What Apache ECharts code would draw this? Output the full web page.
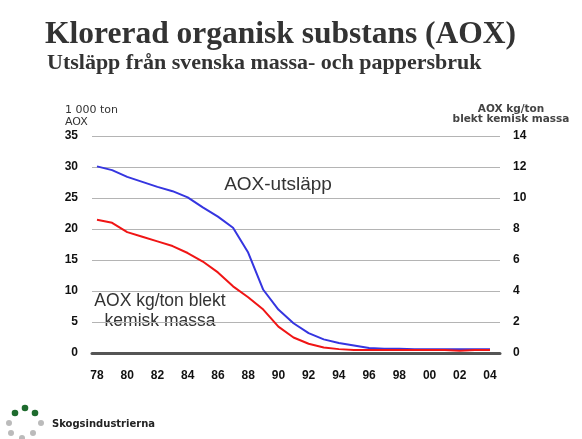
<!DOCTYPE html>
<html>
<head>
<meta charset="utf-8">
<script src="https://cdn.jsdelivr.net/npm/echarts@6/dist/echarts.min.js"></script>
<style>
  html, body { margin: 0; padding: 0; background: #fff; }
  #main { width: 582px; height: 439px; }
</style>
</head>
<body>
<div id="main"></div>
<script>
let years = [1978, 1979, 1980, 1981, 1982, 1983, 1984, 1985, 1986, 1987, 1988, 1989, 1990, 1991,
    1992, 1993, 1994, 1995, 1996, 1997, 1998, 1999, 2000, 2001, 2002, 2003, 2004];
// 1 000 ton AOX (left axis)
let aoxUtslapp = [30.1, 29.5, 28.4, 27.6, 26.8, 26.1, 25.1, 23.5, 22, 20.2, 16.2, 10.2, 7, 4.8,
    3.2, 2.2, 1.6, 1.2, 0.8, 0.7, 0.7, 0.6, 0.6, 0.6, 0.6, 0.6, 0.6];
// AOX kg/ton blekt kemisk massa (right axis)
let aoxKgTon = [8.6, 8.4, 7.8, 7.5, 7.2, 6.9, 6.45, 5.9, 5.2, 4.3, 3.6, 2.8, 1.7, 1.0,
    0.6, 0.35, 0.25, 0.2, 0.2, 0.2, 0.2, 0.2, 0.2, 0.2, 0.15, 0.2, 0.2];
let xTicks = [1978, 1980, 1982, 1984, 1986, 1988, 1990, 1992, 1994, 1996, 1998, 2000, 2002, 2004];

let chartDom = document.getElementById('main');
let myChart = echarts.init(chartDom);
let option;

let tickFont = {
    color: '#111',
    fontFamily: 'Liberation Sans',
    fontWeight: 'bold',
    fontSize: 12
};

function pairs(vals) {
    return years.map(function (y, i) { return [y, vals[i]]; });
}

option = {
    backgroundColor: '#fff',
    animation: false,
    title: [
        {
            text: 'Klorerad organisk substans (AOX)',
            left: 40,
            top: 14,
            textStyle: {
                fontFamily: 'Liberation Serif',
                fontWeight: 'bold',
                fontSize: 31.5,
                color: '#333'
            }
        },
        {
            text: 'Utsläpp från svenska massa- och pappersbruk',
            left: 42,
            top: 47,
            textStyle: {
                fontFamily: 'Liberation Serif',
                fontWeight: 'bold',
                fontSize: 22,
                color: '#333'
            }
        }
    ],
    grid: {
        left: 92,
        right: 82,
        top: 136,
        bottom: 86
    },
    xAxis: {
        type: 'value',
        min: 1977.67,
        max: 2004.66,
        splitLine: { show: false },
        axisTick: { show: false },
        axisLine: {
            show: true,
            lineStyle: { color: '#555', width: 3 }
        },
        axisLabel: Object.assign({
            customValues: xTicks,
            margin: 17,
            formatter: function (v) { return String(v).slice(2); }
        }, tickFont)
    },
    yAxis: [
        {
            type: 'value',
            min: 0,
            max: 35,
            interval: 5,
            axisLine: { show: false },
            axisTick: { show: false },
            splitLine: { lineStyle: { color: '#b4b4b4', width: 1 } },
            axisLabel: Object.assign({ margin: 14 }, tickFont)
        },
        {
            type: 'value',
            min: 0,
            max: 14,
            interval: 2,
            axisLine: { show: false },
            axisTick: { show: false },
            splitLine: { show: false },
            axisLabel: Object.assign({ margin: 13 }, tickFont)
        }
    ],
    series: [
        {
            name: 'AOX-utsläpp',
            type: 'line',
            yAxisIndex: 0,
            data: pairs(aoxUtslapp),
            showSymbol: false,
            lineStyle: { color: '#3535e0', width: 2 },
            z: 3
        },
        {
            name: 'AOX kg/ton blekt kemisk massa',
            type: 'line',
            yAxisIndex: 1,
            data: pairs(aoxKgTon),
            showSymbol: false,
            lineStyle: { color: '#f01515', width: 2 },
            z: 4
        }
    ],
    graphic: [
        {
            type: 'text', left: 65, top: 104,
            style: { text: '1 000 ton\nAOX', font: '11px "DejaVu Sans"', fill: '#333', lineHeight: 12 }
        },
        {
            type: 'text', x: 511, y: 104,
            style: { text: 'AOX kg/ton\nblekt kemisk massa', font: 'bold 10.5px "DejaVu Sans"', fill: '#444', align: 'center', lineHeight: 10.5 }
        },
        {
            type: 'text', x: 278, y: 175,
            style: { text: 'AOX-utsläpp', font: '19px "Liberation Sans"', fill: '#333', align: 'center' }
        },
        {
            type: 'text', x: 160, y: 291,
            style: { text: 'AOX kg/ton blekt\nkemisk massa', font: '17.5px "Liberation Sans"', fill: '#333', align: 'center', lineHeight: 20 }
        },
        { type: 'circle', shape: { cx: 15, cy: 413, r: 3.3 }, style: { fill: '#1e6b2e' } },
        { type: 'circle', shape: { cx: 25, cy: 408, r: 3.3 }, style: { fill: '#1e6b2e' } },
        { type: 'circle', shape: { cx: 35, cy: 413, r: 3.3 }, style: { fill: '#1e6b2e' } },
        { type: 'circle', shape: { cx: 9, cy: 423, r: 3 }, style: { fill: '#bbb' } },
        { type: 'circle', shape: { cx: 41, cy: 423, r: 3 }, style: { fill: '#bbb' } },
        { type: 'circle', shape: { cx: 11, cy: 433, r: 3 }, style: { fill: '#bbb' } },
        { type: 'circle', shape: { cx: 22, cy: 438, r: 3 }, style: { fill: '#bbb' } },
        { type: 'circle', shape: { cx: 33, cy: 433, r: 3 }, style: { fill: '#bbb' } },
        {
            type: 'text', left: 52, top: 419,
            style: { text: 'Skogsindustrierna', font: 'bold 10px "DejaVu Sans"', fill: '#222' }
        }
    ]
};

myChart.setOption(option);
</script>
</body>
</html>
